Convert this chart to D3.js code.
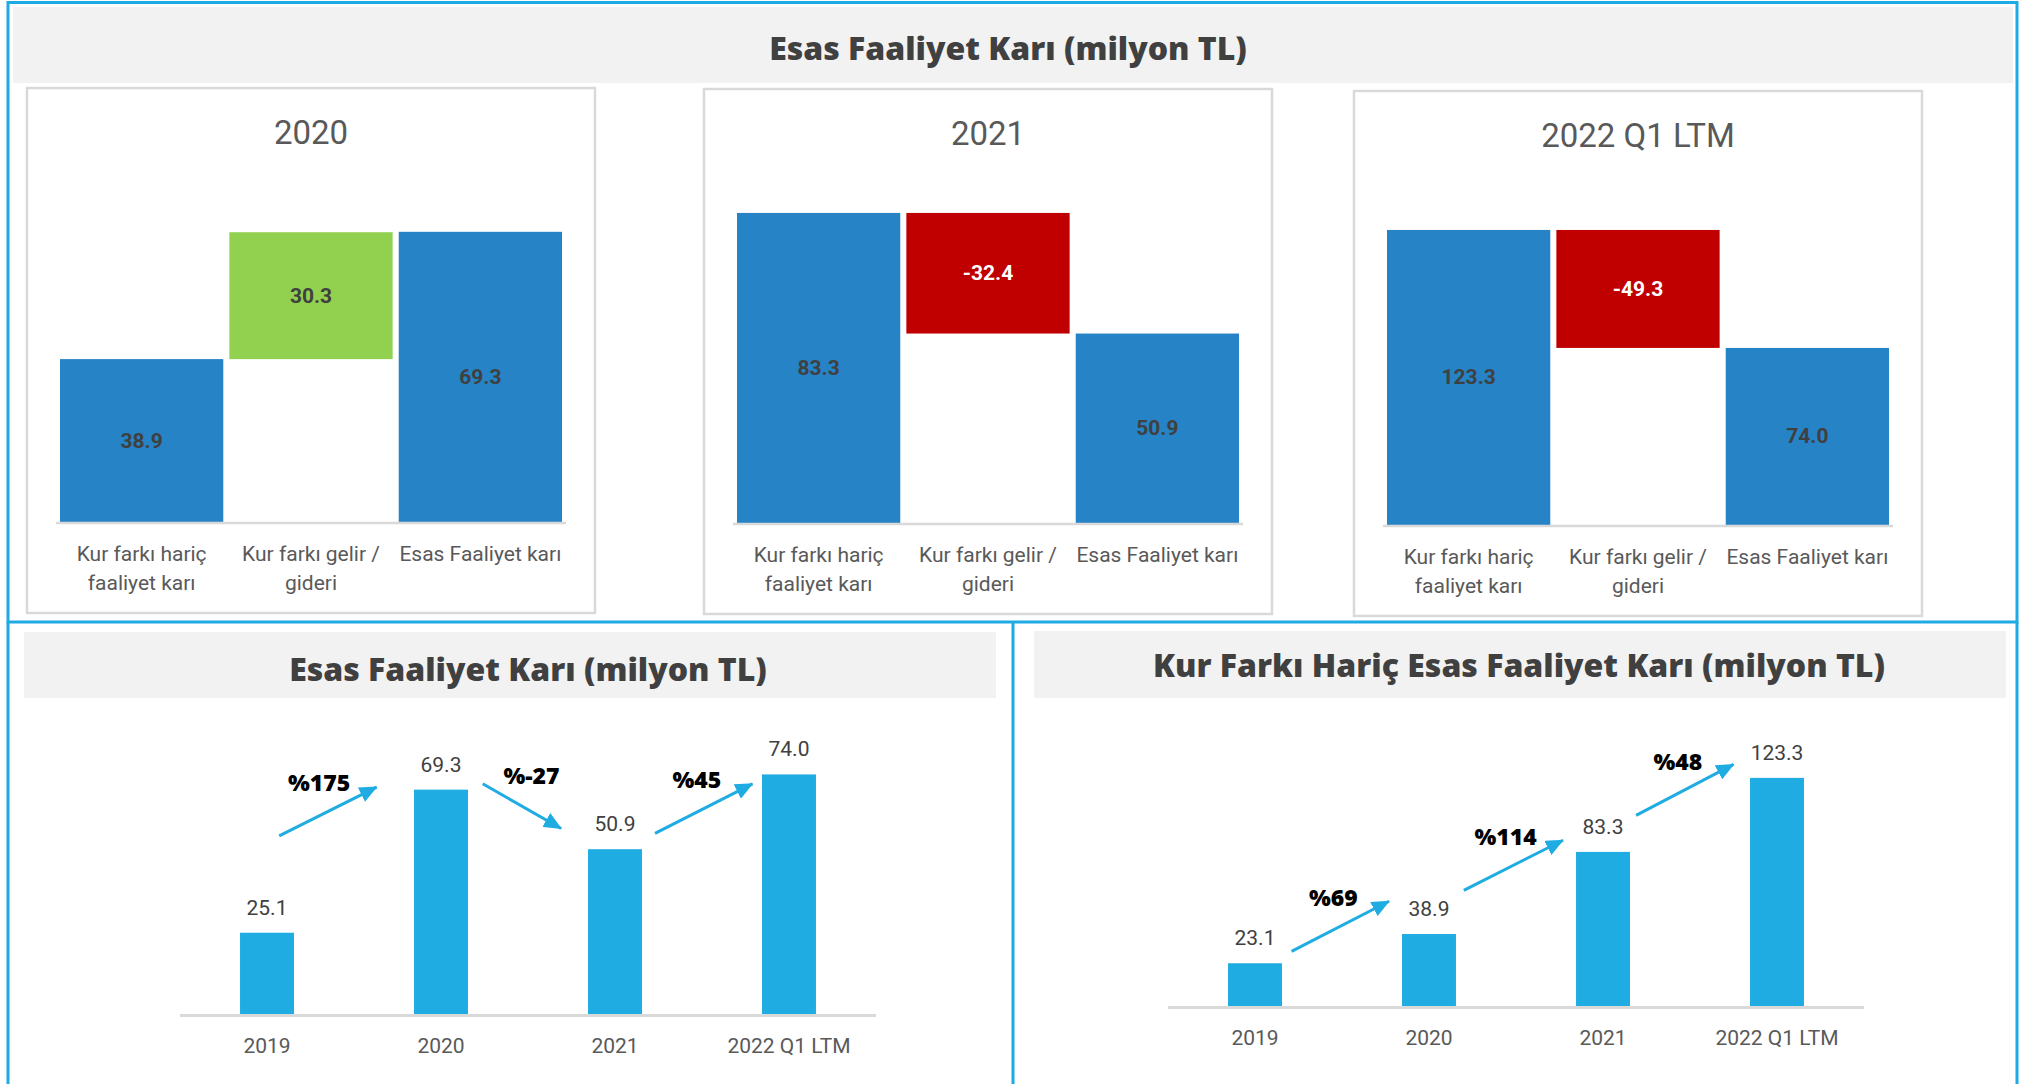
<!DOCTYPE html>
<html>
<head>
<meta charset="utf-8">
<script src="https://cdn.jsdelivr.net/npm/d3@7"></script>
<style>
  body { margin: 0; background: #fff; }
  svg { display: block; }
  .title { font-family: "Open Sans", sans-serif; font-weight: 800; fill: #404040; }
  .lbl { font-family: Roboto, sans-serif; }
  .growth { font-family: "Open Sans", sans-serif; font-weight: 800; fill: #000; }
</style>
</head>
<body>
<svg width="2033" height="1084"></svg>
<script>
// waterfall panels (top)
const panelTitles = ["2020", "2021", "2022 Q1 LTM"];
const wfCategories = [["Kur farkı hariç", "faaliyet karı"], ["Kur farkı gelir /", "gideri"], ["Esas Faaliyet karı"]];
const wfBase = [38.9, 83.3, 123.3];
const wfFx = [30.3, -32.4, -49.3];
const wfTotal = [69.3, 50.9, 74.0];
const wfAxisMax = [80, 90, 140];

// bar charts (bottom)
const years = ["2019", "2020", "2021", "2022 Q1 LTM"];
const esasKar = [25.1, 69.3, 50.9, 74.0];
const kurHaricKar = [23.1, 38.9, 83.3, 123.3];
const esasGrowth = ["%175", "%-27", "%45"];
const kurHaricGrowth = ["%69", "%114", "%48"];
// arrow annotations in data space: [category index, value]
const esasArrows = [[[0.07, 55.0], [0.63, 70.1]], [[1.24, 71.1], [1.69, 57.3]], [[2.23, 55.8], [2.79, 71.1]]];
const esasGrowthPos = [[0.30, 71.6], [1.52, 73.7], [2.47, 72.5]];
const kurArrows = [[[0.21, 29.5], [0.77, 56.6]], [[1.20, 62.5], [1.77, 89.6]], [[2.19, 103.0], [2.75, 130.6]]];
const kurGrowthPos = [[0.45, 58.9], [1.44, 91.8], [2.43, 132.5]];

const svg = d3.select("svg");
const frameColor = "#1eaae2";
const barBlue = "#2683c6", green = "#92d050", red = "#c00000", cyan = "#1eace2";

// title bands
svg.append("rect").attr("x", 13).attr("y", 7).attr("width", 2000).attr("height", 76).attr("fill", "#f2f2f2");
svg.append("text").attr("class", "title").attr("x", 1008).attr("y", 47)
    .attr("text-anchor", "middle").attr("dominant-baseline", "central")
    .attr("font-size", 32).text("Esas Faaliyet Karı (milyon TL)");

svg.append("rect").attr("x", 24).attr("y", 632).attr("width", 972).attr("height", 66).attr("fill", "#f2f2f2");
svg.append("rect").attr("x", 1034).attr("y", 631).attr("width", 972).attr("height", 67).attr("fill", "#f2f2f2");

// outer frame
svg.append("rect").attr("x", 8).attr("y", 2.5).attr("width", 2009).attr("height", 619.5)
    .attr("fill", "none").attr("stroke", frameColor).attr("stroke-width", 3);
[8, 1013, 2017].forEach(x => {
    svg.append("line").attr("x1", x).attr("x2", x).attr("y1", 622).attr("y2", 1090)
        .attr("stroke", frameColor).attr("stroke-width", 3);
});

// waterfall panels
const panelLayout = [{ x: 27, y: 88 }, { x: 704, y: 89 }, { x: 1354, y: 91 }];
const panelW = 568, panelH = 525;

panelTitles.forEach((title, p) => {
    const px = panelLayout[p].x, py = panelLayout[p].y;
    const g = svg.append("g");
    g.append("rect").attr("x", px).attr("y", py).attr("width", panelW).attr("height", panelH)
        .attr("fill", "#fff").attr("stroke", "#d9d9d9").attr("stroke-width", 2.5);
    g.append("text").attr("class", "lbl").attr("x", px + panelW / 2).attr("y", py + 44)
        .attr("text-anchor", "middle").attr("dominant-baseline", "central")
        .attr("font-size", 33).attr("fill", "#595959").text(title);

    const base = py + 434;
    const x = d3.scaleBand().domain([0, 1, 2]).range([px + 33, px + panelW - 33]).paddingInner(0.036);
    const y = d3.scaleLinear().domain([0, wfAxisMax[p]]).range([base, base - 335]);

    const fx = wfFx[p];
    const steps = [
        { i: 0, lo: 0, hi: wfBase[p], v: wfBase[p], color: barBlue, text: "#404040" },
        { i: 1, lo: Math.min(wfBase[p], wfBase[p] + fx), hi: Math.max(wfBase[p], wfBase[p] + fx), v: fx,
          color: fx >= 0 ? green : red, text: fx >= 0 ? "#404040" : "#fff" },
        { i: 2, lo: 0, hi: wfTotal[p], v: wfTotal[p], color: barBlue, text: "#404040" }
    ];

    g.selectAll(".wf").data(steps).enter().append("rect")
        .attr("x", d => x(d.i)).attr("width", x.bandwidth())
        .attr("y", d => y(d.hi)).attr("height", d => y(d.lo) - y(d.hi))
        .attr("fill", d => d.color);

    g.selectAll(".wfv").data(steps).enter().append("text").attr("class", "lbl")
        .attr("x", d => x(d.i) + x.bandwidth() / 2)
        .attr("y", d => (y(d.lo) + y(d.hi)) / 2)
        .attr("text-anchor", "middle").attr("dominant-baseline", "central")
        .attr("font-size", 21).attr("font-weight", 700).attr("fill", d => d.text)
        .text(d => d.v.toFixed(1));

    g.append("line").attr("x1", px + 29).attr("x2", px + panelW - 29).attr("y1", base + 1).attr("y2", base + 1)
        .attr("stroke", "#d9d9d9").attr("stroke-width", 2.5);

    wfCategories.forEach((lines, i) => {
        const t = g.append("text").attr("class", "lbl")
            .attr("text-anchor", "middle").attr("font-size", 21).attr("fill", "#595959");
        lines.forEach((ln, k) => {
            t.append("tspan").attr("x", x(i) + x.bandwidth() / 2).attr("y", base + 39 + k * 29).text(ln);
        });
    });
});

// arrow marker
svg.append("defs").append("marker").attr("id", "head")
    .attr("markerUnits", "userSpaceOnUse").attr("markerWidth", 18).attr("markerHeight", 16)
    .attr("viewBox", "0 0 18 16").attr("refX", 17).attr("refY", 8).attr("orient", "auto")
    .append("path").attr("d", "M0,0 L18,8 L0,16 Z").attr("fill", cyan);

function barChart(opt) {
    const g = svg.append("g");
    g.append("text").attr("class", "title").attr("x", opt.titleX).attr("y", opt.titleY)
        .attr("text-anchor", "middle").attr("dominant-baseline", "central")
        .attr("font-size", opt.titleSize).text(opt.title);

    const x = d3.scaleBand().domain(years).range(opt.xRange).paddingInner(0.69).paddingOuter(0.345);
    const y = d3.scaleLinear().domain([0, opt.max]).range([opt.base, opt.base - 259]);
    const step = x.step();
    const cx = i => x(years[0]) + x.bandwidth() / 2 + i * step;

    g.selectAll(".bar").data(opt.values).enter().append("rect")
        .attr("x", (d, i) => x(years[i])).attr("width", x.bandwidth())
        .attr("y", d => y(d)).attr("height", d => y(0) - y(d))
        .attr("fill", cyan);

    g.append("line").attr("x1", opt.xRange[0]).attr("x2", opt.xRange[1])
        .attr("y1", opt.base + 1.5).attr("y2", opt.base + 1.5)
        .attr("stroke", "#d9d9d9").attr("stroke-width", 3);

    g.selectAll(".val").data(opt.values).enter().append("text").attr("class", "lbl")
        .attr("x", (d, i) => cx(i)).attr("y", d => y(d) - 18)
        .attr("text-anchor", "middle").attr("font-size", 21).attr("fill", "#404040")
        .text(d => d.toFixed(1));

    g.selectAll(".cat").data(years).enter().append("text").attr("class", "lbl")
        .attr("x", (d, i) => cx(i)).attr("y", opt.base + 39)
        .attr("text-anchor", "middle").attr("font-size", 21).attr("fill", "#595959")
        .text(d => d);

    g.selectAll(".arrow").data(opt.arrows).enter().append("line")
        .attr("x1", d => cx(d[0][0])).attr("y1", d => y(d[0][1]))
        .attr("x2", d => cx(d[1][0])).attr("y2", d => y(d[1][1]))
        .attr("stroke", cyan).attr("stroke-width", 3).attr("marker-end", "url(#head)");

    g.selectAll(".growth").data(opt.growth).enter().append("text").attr("class", "growth")
        .attr("x", (d, i) => cx(opt.growthPos[i][0])).attr("y", (d, i) => y(opt.growthPos[i][1]))
        .attr("text-anchor", "middle").attr("dominant-baseline", "central")
        .attr("font-size", 23).text(d => d);
}

barChart({
    title: "Esas Faaliyet Karı (milyon TL)", titleX: 528, titleY: 668, titleSize: 32,
    values: esasKar, max: 80, base: 1014, xRange: [180, 876],
    arrows: esasArrows, growth: esasGrowth, growthPos: esasGrowthPos
});

barChart({
    title: "Kur Farkı Hariç Esas Faaliyet Karı (milyon TL)", titleX: 1519, titleY: 664, titleSize: 32,
    values: kurHaricKar, max: 140, base: 1006, xRange: [1168, 1864],
    arrows: kurArrows, growth: kurHaricGrowth, growthPos: kurGrowthPos
});
</script>
</body>
</html>
